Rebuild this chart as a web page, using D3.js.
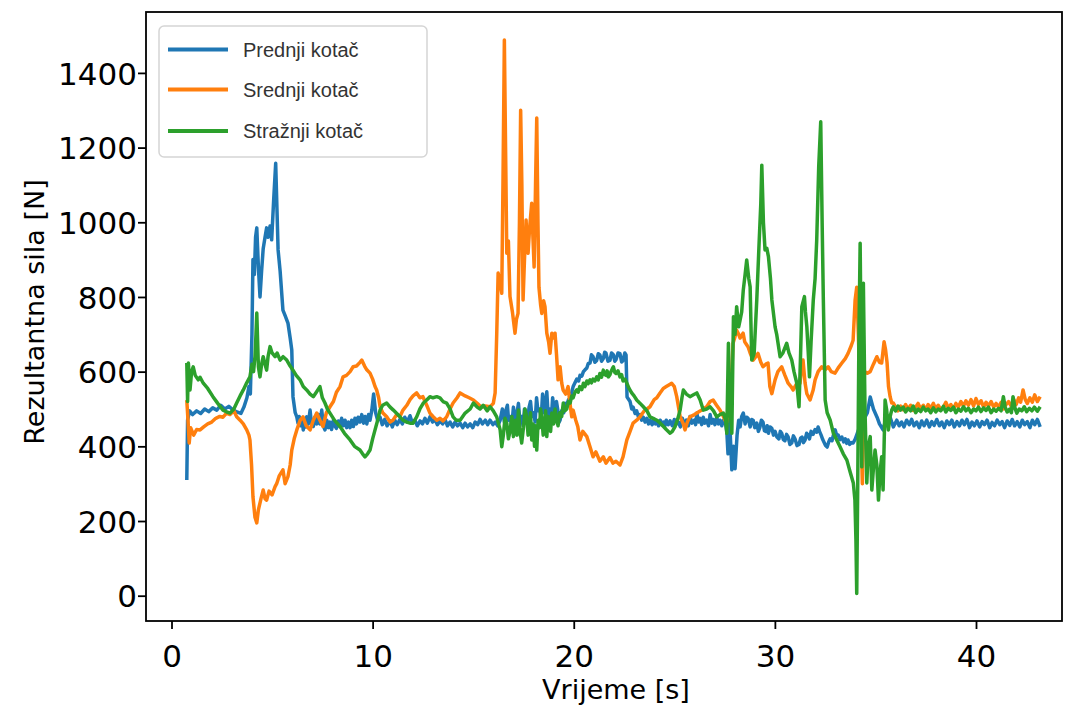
<!DOCTYPE html>
<head>
    <meta charset="utf-8">
    <title>Rezultantna sila</title>
    <style>
        body { margin: 0; background: #fff; }
        text { font-family: "DejaVu Sans", sans-serif; }
    </style>
    <script src="https://d3js.org/d3.v7.min.js"></script>
</head>
<body>
<script>
// series: [time s, force N]
var prednji = [[0.76,310],[0.80,470],[0.90,495],[1.05,485],[1.25,495],[1.45,488],[1.65,500],[1.85,493],[2.05,503],[2.25,497],[2.45,510],[2.65,500],[2.85,507],[3.05,498],[3.25,492],[3.45,488],[3.6,505],[3.75,530],[3.85,560],[3.92,540],[4.0,700],[4.05,900],[4.12,860],[4.18,960],[4.24,985],[4.32,880],[4.40,800],[4.48,870],[4.56,930],[4.65,960],[4.73,985],[4.80,960],[4.90,990],[4.98,953],[5.08,1060],[5.18,1158],[5.30,926],[5.40,870],[5.54,765],[5.65,750],[5.79,730],[5.90,690],[5.98,658],[6.04,533],[6.15,490],
  [6.23,479],[6.29,462],[6.35,480],[6.42,455],[6.5,470],[6.55,444],[6.62,470],[6.68,452],[6.72,479],[6.8,460],[6.89,497],[6.95,465],[7.05,453],[7.12,478],[7.22,460],[7.3,485],[7.38,460],[7.47,497],[7.55,455],[7.63,444],[7.72,470],[7.8,450],[7.88,465],[7.96,445],[8.05,470],[8.12,455],[8.2,448],[8.3,468],[8.38,453],[8.46,475],[8.55,455],[8.63,470],[8.71,450],[8.8,465],[8.88,450],[8.96,470],[9.04,453],[9.12,475],[9.2,460],[9.28,478],[9.37,465],[9.46,485],[9.55,462],[9.63,480],[9.71,460],[9.8,485],[9.87,470],[9.96,497],[10.05,540],[10.15,490],
  [10.25,470],[10.37,478],[10.48,458],[10.6,472],[10.72,455],[10.87,468],[10.98,452],[11.1,470],[11.22,458],[11.36,472],[11.48,460],[11.6,478],[11.72,465],[11.86,482],[11.98,462],[12.1,470],[12.22,455],[12.36,468],[12.48,460],[12.6,475],[12.72,462],[12.85,479],[12.98,465],[13.1,472],[13.22,458],[13.35,468],[13.48,460],[13.6,472],[13.72,455],[13.85,465],[13.98,452],[14.1,465],[14.22,455],[14.35,462],[14.48,450],[14.6,462],[14.72,452],[14.85,460],[14.98,450],[15.1,465],[15.22,458],[15.34,472],[15.46,460],[15.6,470],[15.72,458],[15.84,470],[15.98,458],[16.1,465],[16.22,455],[16.34,470],
  [16.45,500],[16.55,465],[16.62,495],[16.7,510],[16.76,470],[16.83,480],[16.92,455],[17.0,505],[17.1,470],[17.18,490],[17.25,515],[17.32,468],[17.4,480],[17.48,455],[17.55,500],[17.62,478],[17.7,470],[17.78,505],[17.85,520],[17.92,480],[18.0,490],[18.08,465],[18.15,530],[18.22,495],[18.3,500],[18.38,475],[18.45,540],[18.52,490],[18.57,505],[18.66,546],[18.73,480],[18.8,500],[18.88,470],[18.95,530],[19.02,500],[19.07,490],[19.14,520],[19.2,500],[19.27,465],[19.32,470],[19.4,495],[19.5,490],[19.58,515],[19.65,510],[19.74,525],[19.82,530],[19.9,545],[19.97,560],[20.06,570],[20.15,580],[20.24,575],[20.31,590],[20.4,588],[20.48,600],[20.56,605],[20.65,610],[20.72,622],[20.81,623],[20.88,645],[20.96,640],[21.05,625],[21.14,630],[21.22,648],[21.3,645],[21.38,628],[21.47,635],[21.54,652],[21.6,650],[21.7,628],[21.8,630],[21.88,650],[21.97,645],[22.04,628],[22.1,632],[22.2,650],[22.3,648],[22.38,626],[22.45,630],[22.54,650],[22.6,645],[22.65,532],[22.8,520],[22.88,500],
  [22.95,505],[23.05,488],[23.13,495],[23.22,478],[23.3,485],[23.38,470],[23.46,478],[23.55,465],[23.64,475],[23.72,460],[23.8,470],[23.9,458],[24.0,472],[24.07,460],[24.13,468],[24.22,455],[24.3,470],[24.38,458],[24.46,465],[24.53,455],[24.6,470],[24.7,458],[24.79,468],[24.9,455],[25.0,472],[25.1,460],[25.2,465],[25.3,452],[25.4,475],[25.5,458],[25.6,470],[25.7,455],[25.78,480],[25.88,462],[26.0,470],[26.06,458],[26.12,489],[26.2,465],[26.28,475],[26.36,458],[26.44,478],[26.52,462],[26.61,470],[26.7,455],[26.78,485],[26.86,462],[26.93,472],[27.02,458],[27.11,478],[27.2,460],[27.27,470],[27.36,455],[27.44,470],[27.55,460],
  [27.61,440],[27.67,380],[27.75,470],[27.86,337],[27.94,400],[28.02,340],[28.12,430],[28.2,470],[28.27,452],[28.35,480],[28.43,489],[28.52,460],[28.6,478],[28.67,475],[28.77,452],[28.85,472],[28.92,470],[29.0,450],[29.1,462],[29.18,440],[29.25,450],[29.33,470],[29.41,465],[29.48,442],[29.55,440],[29.62,455],[29.68,435],[29.76,452],[29.85,448],[29.93,430],[30.01,440],[30.1,425],[30.2,420],[30.27,440],[30.34,435],[30.42,418],[30.5,415],[30.58,432],[30.66,425],[30.75,405],[30.84,409],[30.92,428],[31.0,420],[31.1,402],[31.2,405],[31.28,422],[31.35,425],[31.42,410],[31.5,417],[31.58,435],[31.65,430],[31.72,420],[31.8,440],[31.9,432],[32.0,445],[32.08,438],[32.15,452],[32.22,440],[32.3,430],[32.38,418],[32.45,410],[32.52,402],[32.6,398],[32.68,412],[32.75,420],[32.84,415],[32.91,430],[33.0,444],[33.08,428],[33.15,430],[33.24,418],[33.33,425],[33.42,412],[33.5,420],[33.57,408],[33.64,417],[33.72,405],[33.8,410],[33.89,409],[34.0,420],[34.2,450],[34.4,470],[34.6,490],[34.74,532],[34.9,500],[35.08,478],[35.2,460],[35.38,444],[35.5,470],[35.6,455],[35.73,478],[35.89,452],
  [36.06,470],[36.18,455],[36.3,465],[36.42,452],[36.55,470],[36.68,458],[36.8,472],[36.92,455],[37.05,465],[37.18,450],[37.3,468],[37.42,455],[37.55,470],[37.68,452],[37.8,466],[37.92,456],[38.05,472],[38.18,455],[38.3,465],[38.42,450],[38.55,468],[38.68,458],[38.8,470],[38.92,452],[39.05,466],[39.18,455],[39.3,470],[39.42,458],[39.55,472],[39.68,450],[39.8,465],[39.92,455],[40.05,468],[40.18,452],[40.3,466],[40.42,458],[40.55,470],[40.68,450],[40.8,464],[40.92,455],[41.05,470],[41.18,458],[41.3,466],[41.42,450],[41.55,468],[41.68,456],[41.8,472],[41.92,455],[42.05,466],[42.18,452],[42.3,470],[42.42,458],[42.55,466],[42.68,450],[42.8,470],[42.92,458],[43.05,472],[43.19,452]];

var srednji = [[0.76,524],[0.82,470],[0.88,409],[0.95,450],[1.1,430],[1.25,445],[1.42,444],[1.6,452],[1.8,460],[2.0,465],[2.2,475],[2.4,480],[2.56,478],[2.74,489],[2.91,485],[3.1,495],[3.24,479],[3.41,470],[3.57,460],[3.74,444],[3.85,430],[3.90,417],[3.98,350],[4.05,265],[4.15,210],[4.24,195],[4.32,230],[4.45,260],[4.56,283],[4.65,260],[4.73,256],[4.85,280],[5.0,270],[5.15,292],[5.23,300],[5.35,320],[5.54,337],[5.65,300],[5.79,319],[5.9,350],[5.98,390],[6.1,420],[6.23,444],[6.4,470],[6.54,479],[6.7,455],[6.89,444],[7.05,470],[7.22,489],[7.38,470],[7.53,453],[7.7,490],[7.88,506],[8.05,520],[8.2,545],[8.38,560],[8.53,586],[8.7,590],[8.88,600],[9.03,613],[9.2,615],[9.37,625],[9.46,631],[9.6,615],[9.71,605],[9.87,596],[10.0,580],[10.12,560],[10.2,551],[10.3,530],[10.37,506],[10.5,490],[10.7,479],[10.87,465],[11.01,470],[11.2,485],[11.36,480],[11.51,497],[11.7,510],[11.86,525],[12.01,535],[12.19,543],[12.35,530],[12.5,533],[12.69,510],[12.85,489],[13.0,480],[13.19,470],[13.35,475],[13.5,468],[13.68,479],[13.85,500],[14.0,516],[14.2,530],[14.35,543],[14.6,535],[14.8,530],[15.01,524],[15.2,515],[15.4,505],[15.6,508],[15.84,506],[16.0,515],[16.09,543],[16.17,700],[16.24,864],[16.34,840],[16.42,810],[16.48,1100],[16.55,1488],[16.61,1200],[16.67,917],[16.75,950],[16.83,801],[16.95,760],[17.08,703],[17.15,740],[17.23,756],[17.3,1000],[17.36,1300],[17.42,1100],[17.48,792],[17.55,900],[17.63,1006],[17.68,940],[17.73,917],[17.8,980],[17.91,1051],[17.97,960],[18.03,880],[18.1,1100],[18.16,1279],[18.22,1000],[18.27,826],[18.35,780],[18.41,756],[18.5,790],[18.57,774],[18.66,703],[18.75,680],[18.82,649],[18.91,703],[19.0,690],[19.07,703],[19.15,640],[19.22,578],[19.32,613],[19.4,570],[19.47,551],[19.6,540],[19.72,560],[19.8,520],[19.9,479],[19.97,497],[20.1,470],[20.2,453],[20.31,417],[20.45,440],[20.65,426],[20.8,400],[20.96,372],[21.1,385],[21.3,360],[21.47,372],[21.6,355],[21.8,370],[21.95,355],[22.1,360],[22.3,350],[22.45,372],[22.64,417],[22.8,440],[22.95,462],[23.13,470],[23.3,479],[23.5,495],[23.64,500],[23.79,506],[24.0,525],[24.13,530],[24.29,543],[24.45,555],[24.6,560],[24.75,565],[24.87,569],[25.0,560],[25.12,533],[25.29,479],[25.45,460],[25.53,444],[25.65,465],[25.78,479],[26.0,485],[26.12,489],[26.3,495],[26.44,500],[26.61,506],[26.78,520],[26.93,524],[27.1,510],[27.27,497],[27.44,480],[27.52,470],[27.61,465],[27.7,520],[27.86,600],[27.92,676],[28.0,690],[28.1,711],[28.2,700],[28.27,690],[28.42,703],[28.5,680],[28.67,666],[28.77,650],[28.92,631],[29.05,640],[29.16,649],[29.3,625],[29.41,613],[29.55,620],[29.66,623],[29.75,560],[29.85,541],[30.01,578],[30.15,600],[30.34,613],[30.5,590],[30.66,569],[30.8,560],[30.91,551],[31.05,565],[31.25,569],[31.35,620],[31.4,631],[31.5,570],[31.59,541],[31.75,524],[31.9,550],[32.0,578],[32.15,600],[32.33,613],[32.5,605],[32.65,613],[32.8,600],[32.99,596],[33.15,610],[33.33,623],[33.5,635],[33.64,649],[33.8,670],[33.89,684],[33.99,792],[34.07,826],[34.15,700],[34.25,520],[34.35,300],[34.45,600],[34.6,596],[34.74,600],[34.9,620],[35.07,640],[35.2,625],[35.31,623],[35.43,680],[35.5,660],[35.58,623],[35.65,560],[35.73,533],[35.81,516],
  [35.89,516],[36.0,505],[36.12,495],[36.25,508],[36.38,498],[36.5,512],[36.62,500],[36.75,510],[36.88,496],[37.0,505],[37.12,515],[37.25,500],[37.38,510],[37.5,498],[37.62,512],[37.75,502],[37.88,515],[38.0,500],[38.12,510],[38.25,498],[38.38,505],[38.5,518],[38.62,502],[38.75,512],[38.88,500],[39.0,515],[39.12,505],[39.25,520],[39.38,508],[39.5,522],[39.62,510],[39.75,525],[39.88,508],[40.0,528],[40.12,512],[40.25,522],[40.38,505],[40.5,518],[40.62,508],[40.75,520],[40.88,505],[41.0,515],[41.12,505],[41.25,518],[41.38,500],[41.5,512],[41.62,520],[41.75,508],[41.88,525],[42.0,512],[42.12,530],[42.22,518],[42.34,551],[42.45,525],[42.55,515],[42.68,530],[42.8,518],[42.92,538],[43.05,520],[43.19,533]];

var straznji = [[0.76,623],[0.80,520],[0.84,623],[0.92,551],[1.0,600],[1.08,613],[1.18,590],[1.33,578],[1.42,585],[1.58,569],[1.8,555],[2.06,533],[2.3,515],[2.56,497],[2.75,492],[2.91,489],[3.1,500],[3.24,516],[3.41,535],[3.57,551],[3.74,570],[3.90,586],[4.0,620],[4.08,600],[4.15,640],[4.2,700],[4.24,757],[4.32,613],[4.40,586],[4.48,620],[4.56,640],[4.65,620],[4.73,604],[4.80,640],[4.90,667],[5.0,650],[5.15,640],[5.25,650],[5.40,631],[5.55,640],[5.73,631],[5.9,615],[6.04,604],[6.2,590],[6.39,578],[6.55,560],[6.72,551],[6.89,540],[7.05,533],[7.2,545],[7.38,560],[7.5,530],[7.63,516],[7.75,500],[7.88,489],[8.1,470],[8.38,453],[8.6,435],[8.88,417],[9.1,400],[9.37,390],[9.5,380],[9.62,372],[9.75,380],[9.87,390],[10.0,420],[10.12,444],[10.25,470],[10.37,497],[10.5,510],[10.7,516],[10.87,505],[11.03,497],[11.2,488],[11.36,479],[11.51,470],[11.7,465],[11.86,462],[12.01,462],[12.19,479],[12.35,500],[12.52,516],[12.69,524],[12.85,533],[13.0,530],[13.19,533],[13.35,530],[13.5,520],[13.68,516],[13.85,500],[14.0,479],[14.15,470],[14.35,470],[14.6,489],[14.85,500],[15.01,516],[15.2,505],[15.34,500],[15.5,510],[15.7,495],[15.84,506],[16.0,495],[16.17,479],[16.34,444],[16.42,399],[16.5,430],[16.58,475],[16.67,462],[16.75,420],[16.83,440],[16.92,480],[17.0,426],[17.1,470],[17.18,430],[17.25,497],[17.33,440],[17.41,409],[17.5,450],[17.58,500],[17.66,479],[17.73,430],[17.8,440],[17.85,490],[17.91,417],[17.98,460],[18.05,400],[18.1,455],[18.16,390],[18.23,470],[18.3,450],[18.35,500],[18.41,479],[18.48,430],[18.55,440],[18.6,495],[18.66,426],[18.73,480],[18.8,470],[18.85,440],[18.91,489],[19.0,460],[19.07,500],[19.15,470],[19.22,455],[19.3,490],[19.4,480],[19.48,516],[19.56,495],[19.65,500],[19.74,520],[19.82,516],[19.9,535],[19.97,530],[20.06,545],[20.15,551],[20.22,545],[20.3,560],[20.4,552],[20.48,569],[20.56,560],[20.65,575],[20.72,568],[20.81,578],[20.88,570],[20.96,580],[21.05,575],[21.14,586],[21.22,578],[21.3,595],[21.38,585],[21.47,604],[21.54,592],[21.6,590],[21.66,602],[21.72,586],[21.8,592],[21.85,600],[21.92,608],[21.97,613],[22.04,598],[22.1,595],[22.2,602],[22.3,586],[22.38,592],[22.45,575],[22.55,580],[22.64,569],[22.75,555],[22.88,543],[23.0,535],[23.13,524],[23.3,515],[23.46,506],[23.64,495],[23.79,479],[23.95,475],[24.13,470],[24.3,462],[24.46,453],[24.6,445],[24.79,435],[24.9,440],[25.04,453],[25.15,470],[25.29,497],[25.38,530],[25.45,551],[25.6,540],[25.78,533],[25.95,538],[26.12,543],[26.28,525],[26.44,497],[26.61,500],[26.78,506],[26.95,495],[27.11,479],[27.27,485],[27.44,489],[27.55,470],[27.61,435],[27.69,676],[27.77,500],[27.86,435],[27.94,747],[28.02,700],[28.1,774],[28.2,720],[28.27,738],[28.35,760],[28.43,819],[28.52,860],[28.6,899],[28.7,850],[28.77,827],[28.85,631],[28.97,649],[29.1,792],[29.22,950],[29.3,1050],[29.35,1153],[29.43,1000],[29.51,926],[29.6,930],[29.68,908],[29.78,850],[29.85,792],[30.01,720],[30.09,700],[30.26,640],[30.4,650],[30.59,676],[30.7,650],[30.84,631],[30.95,600],[31.09,569],[31.2,506],[31.28,650],[31.34,774],[31.47,801],[31.52,760],[31.59,720],[31.66,650],[31.72,586],[31.8,680],[31.91,792],[32.0,850],[32.08,952],[32.18,1150],[32.28,1269],[32.35,1000],[32.41,792],[32.5,524],[32.6,490],[32.75,470],[32.91,435],[33.05,420],[33.24,399],[33.4,380],[33.58,363],[33.75,330],[33.9,302],[33.98,256],[34.03,150],[34.07,6],[34.12,300],[34.18,700],[34.24,944],[34.3,600],[34.32,345],[34.36,700],[34.4,837],[34.48,500],[34.57,302],[34.65,400],[34.74,426],[34.82,283],[34.9,340],[34.98,390],[35.07,350],[35.15,256],[35.23,330],[35.31,372],[35.38,283],[35.43,400],[35.48,524],[35.56,497],[35.64,444],[35.73,480],[35.81,497],
  [35.89,506],[36.0,495],[36.12,508],[36.25,497],[36.38,505],[36.5,492],[36.62,502],[36.75,495],[36.88,508],[37.0,490],[37.12,500],[37.25,493],[37.38,505],[37.5,495],[37.62,500],[37.75,490],[37.88,503],[38.0,492],[38.12,500],[38.25,495],[38.38,507],[38.5,492],[38.62,502],[38.75,496],[38.88,505],[39.0,490],[39.12,500],[39.25,494],[39.38,506],[39.5,495],[39.62,502],[39.75,490],[39.88,500],[40.0,495],[40.12,505],[40.25,493],[40.38,503],[40.5,496],[40.62,505],[40.75,490],[40.88,500],[41.0,494],[41.12,502],[41.25,495],[41.36,533],[41.45,505],[41.55,492],[41.68,500],[41.76,490],[41.84,533],[41.95,500],[42.03,489],[42.15,500],[42.28,495],[42.4,506],[42.52,493],[42.65,502],[42.78,495],[42.9,505],[43.05,494],[43.19,506]];

var seriesNames = ["Prednji kotač", "Srednji kotač", "Stražnji kotač"];
var seriesColors = ["#1f77b4", "#ff7f0e", "#2ca02c"];
var xTicks = [0, 10, 20, 30, 40];
var yTicks = [0, 200, 400, 600, 800, 1000, 1200, 1400];

var margin = { top: 12, right: 8, bottom: 85, left: 146 },
    width = 1070 - margin.left - margin.right,
    height = 706 - margin.top - margin.bottom;

var x = d3.scaleLinear().domain([-1.268, 44.276]).range([0, width]);
var y = d3.scaleLinear().domain([-67.75, 1563.1]).range([height, 0]);

var svg = d3.select("body").append("svg")
    .attr("width", 1070)
    .attr("height", 706);

var plot = svg.append("g")
    .attr("transform", "translate(" + margin.left + "," + margin.top + ")");

plot.append("clipPath").attr("id", "clip")
    .append("rect").attr("width", width).attr("height", height);

var line = d3.line()
    .x(function(d) { return x(d[0]); })
    .y(function(d) { return y(d[1]); });

var lines = plot.append("g").attr("clip-path", "url(#clip)");
[prednji, srednji, straznji].forEach(function(s, i) {
    lines.append("path")
        .datum(s)
        .attr("d", line)
        .attr("fill", "none")
        .attr("stroke", seriesColors[i])
        .attr("stroke-width", 3.5)
        .attr("stroke-linejoin", "round");
});

// axes
var xAxis = plot.append("g")
    .attr("transform", "translate(0," + height + ")")
    .call(d3.axisBottom(x).tickValues(xTicks).tickSize(8).tickSizeOuter(0)
        .tickFormat(d3.format("d")));
xAxis.selectAll("text")
    .attr("y", 46).attr("dy", 0)
    .style("font-size", "31px").style("fill", "#000");

var yAxis = plot.append("g")
    .call(d3.axisLeft(y).tickValues(yTicks).tickSize(8).tickSizeOuter(0)
        .tickFormat(d3.format("d")));
yAxis.selectAll("text")
    .attr("x", -9).attr("dy", "0.36em")
    .style("font-size", "31px").style("fill", "#000");

plot.selectAll(".domain").remove();
plot.selectAll(".tick line").attr("stroke", "#000").attr("stroke-width", 1.8);

plot.append("rect")
    .attr("width", width).attr("height", height)
    .attr("fill", "none").attr("stroke", "#000").attr("stroke-width", 1.8);

// axis titles
svg.append("text")
    .attr("x", 616).attr("y", 699)
    .attr("text-anchor", "middle")
    .style("font-size", "27px")
    .text("Vrijeme [s]");

svg.append("text")
    .attr("transform", "translate(44,312) rotate(-90)")
    .attr("text-anchor", "middle")
    .style("font-size", "27px")
    .text("Rezultantna sila [N]");

// legend
var legend = svg.append("g");
legend.append("rect")
    .attr("x", 159).attr("y", 26).attr("width", 268).attr("height", 131)
    .attr("rx", 5)
    .attr("fill", "#fff").attr("stroke", "#d5d5d5").attr("stroke-width", 1.5);

var legendY = [49.5, 89.5, 131];
seriesNames.forEach(function(name, i) {
    legend.append("line")
        .attr("x1", 168).attr("x2", 228)
        .attr("y1", legendY[i]).attr("y2", legendY[i])
        .attr("stroke", seriesColors[i]).attr("stroke-width", 4);
    legend.append("text")
        .attr("x", 243).attr("y", legendY[i] + 7)
        .style("font-family", "'Liberation Sans', Arial, sans-serif")
        .style("font-size", "20px")
        .style("fill", "#333")
        .text(name);
});
</script>
</body>
